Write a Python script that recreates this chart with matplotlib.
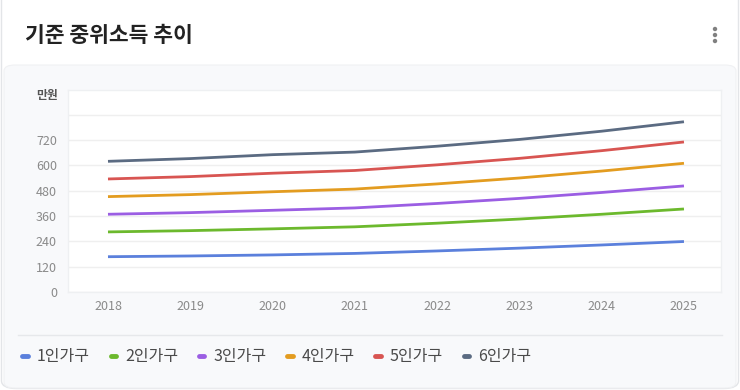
import matplotlib.pyplot as plt
from matplotlib.patches import FancyBboxPatch, Ellipse
from matplotlib.lines import Line2D

plt.rcParams['font.family'] = ['Noto Sans CJK KR', 'DejaVu Sans']

# 기준 중위소득 (만원)
years = [2018, 2019, 2020, 2021, 2022, 2023, 2024, 2025]
h1 = [167.2, 170.7, 175.7, 182.8, 194.5, 207.8, 222.8, 239.2]
h2 = [284.7, 290.7, 299.2, 308.8, 326.0, 345.6, 368.3, 393.3]
h3 = [368.3, 376.0, 387.1, 398.4, 419.5, 443.5, 471.5, 502.5]
h4 = [451.9, 461.4, 474.9, 487.6, 512.1, 540.1, 573.0, 609.8]
h5 = [535.5, 546.7, 562.8, 575.7, 602.5, 633.1, 669.6, 710.8]
h6 = [619.1, 632.1, 650.6, 662.9, 690.7, 722.8, 761.8, 806.5]
series = [h1, h2, h3, h4, h5, h6]
labels = ['1인가구', '2인가구', '3인가구', '4인가구', '5인가구', '6인가구']
colors = ['#5b80dc', '#6cb92d', '#9b5ee3', '#e39c20', '#d85552', '#5b6b82']
yticks = [0, 120, 240, 360, 480, 600, 720, 840]

W, H = 740, 390
fig = plt.figure(figsize=(W / 100, H / 100), dpi=100)
fig.patch.set_facecolor('white')

# card border and inner panel
card = FancyBboxPatch((1.5 / W, 1.5 / H), 737 / W, 400 / H,
                      boxstyle='round,pad=0,rounding_size=0.02',
                      transform=fig.transFigure, facecolor='white',
                      edgecolor='#e3e5e8', lw=1, zorder=-3)
fig.patches.append(card)
panel = FancyBboxPatch((4 / W, 2 / H), 732 / W, (H - 67) / H,
                       boxstyle='round,pad=0,rounding_size=0.015',
                       transform=fig.transFigure, facecolor='#f8f9fb',
                       edgecolor='#f0f1f3', lw=0.8, zorder=-2)
fig.patches.append(panel)

fig.text(25 / W, 1 - 35 / H, '기준 중위소득 추이', fontsize=15.5, fontweight='bold',
         color='#222222', va='center', ha='left')
for dy in (29, 35, 41):
    fig.patches.append(Ellipse((715 / W, 1 - dy / H), 3 / W, 3 / H,
                               transform=fig.transFigure, color='#808080'))

ax = fig.add_axes([68 / W, 1 - 292 / H, (721 - 68) / W, (292 - 90) / H])
ax.set_zorder(1)
ax.set_facecolor('white')
for y, lab, c in zip(series, labels, colors):
    ax.plot(years, y, color=c, lw=2, label=lab, solid_capstyle='butt')

ax.set_xlim(2017.514, 2025.45)
ax.set_ylim(0, 957)
ax.set_xticks(years)
ax.set_yticks(yticks)
ax.set_yticklabels([str(v) if v <= 720 else '' for v in yticks])
ax.grid(axis='y', color='#efefef', lw=1)
ax.set_axisbelow(True)
ax.tick_params(length=0, labelsize=9, colors='#8a8a8a', pad=8)
ax.tick_params(axis='x', pad=6)
for s in ax.spines.values():
    s.set_color('#eef0f2')
    s.set_linewidth(1)

fig.text(47 / W, 1 - 96 / H, '만원', fontsize=8.5, fontweight='bold',
         color='#555555', va='center', ha='center')

# legend separator
fig.lines.append(Line2D([18 / W, 722 / W], [1 - 335 / H, 1 - 335 / H],
                        transform=fig.transFigure, color='#e6e8eb', lw=1))

handles = [Line2D([0], [0], color=c, lw=3.5, solid_capstyle='round') for c in colors]
fig.legend(handles, labels, loc='center left', bbox_to_anchor=(8 / W, 1 - 357 / H),
           ncol=6, frameon=False, fontsize=11.5, handlelength=0.35,
           handletextpad=0.55, columnspacing=1.3, labelcolor='#4a4a4a')

fig.savefig('out.png', dpi=100, facecolor='white')
